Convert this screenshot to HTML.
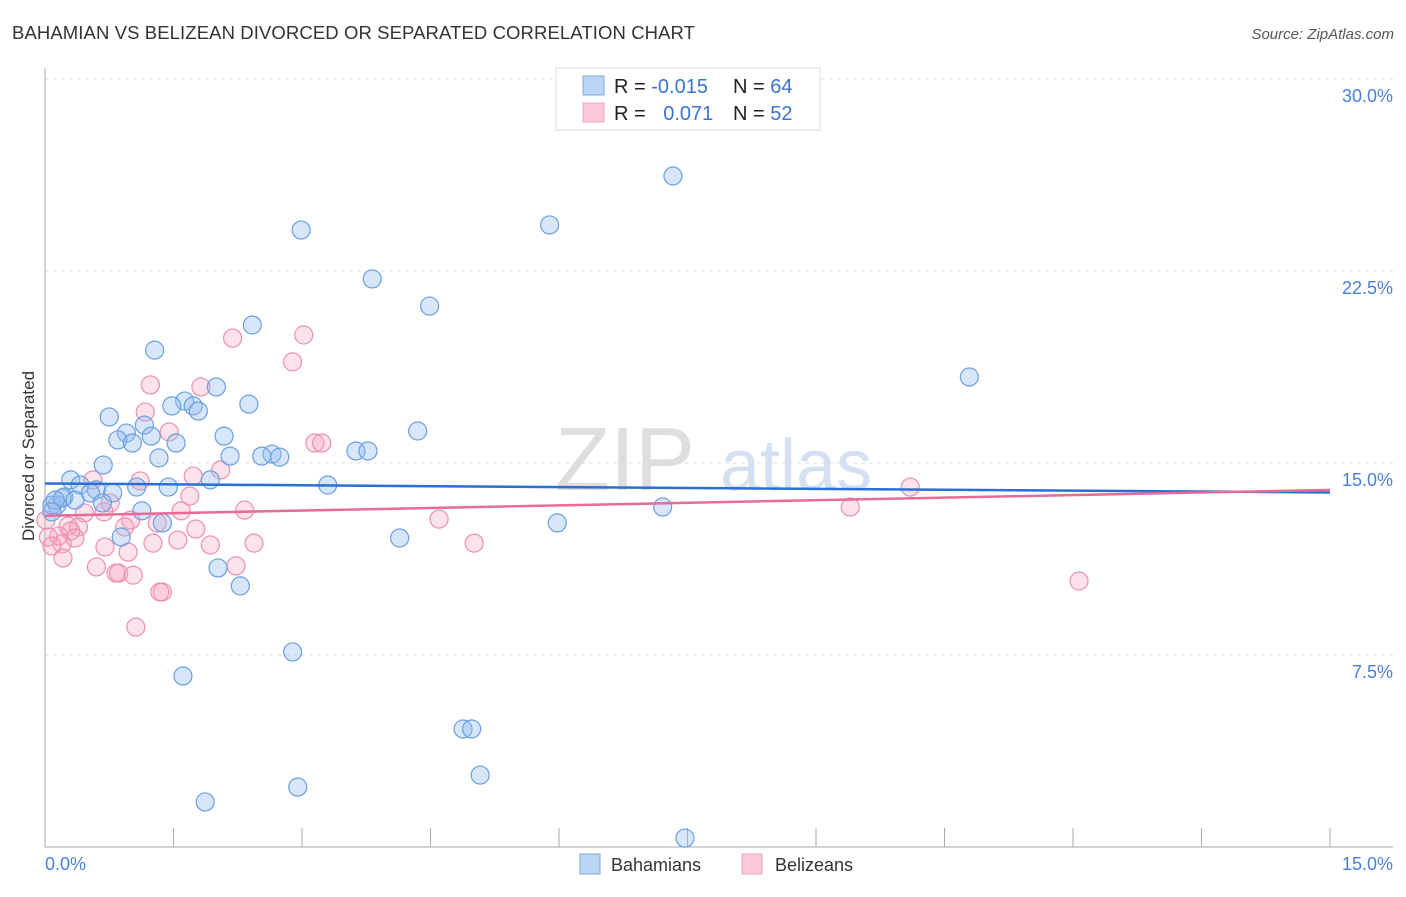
<!DOCTYPE html>
<html><head><meta charset="utf-8">
<style>
body{margin:0;background:#fff;font-family:"Liberation Sans",sans-serif;}
svg text{font-family:"Liberation Sans",sans-serif;}
</style></head>
<body>
<svg id="chart" width="1406" height="892">
<text x="12" y="39" font-size="18.5" fill="#333" letter-spacing="0.1">BAHAMIAN VS BELIZEAN DIVORCED OR SEPARATED CORRELATION CHART</text>
<text x="1394" y="39" font-size="15" fill="#555" font-style="italic" text-anchor="end">Source: ZipAtlas.com</text>
<text transform="translate(34,456) rotate(-90)" font-size="17" fill="#333" text-anchor="middle">Divorced or Separated</text>
<g>
<text x="555" y="490" font-size="90" fill="#dedede" font-family="Liberation Serif">ZIP</text>
<text x="720" y="490" font-size="72" fill="#d3e1f3">atlas</text>
</g>
<g id="grid"></g>
<g id="axes"></g>
<g id="points"></g>
<g id="trends"></g>
<g>
<rect x="556" y="68" width="264" height="62" fill="#fff" stroke="#ddd"/>
<rect x="583" y="76" width="21" height="19" fill="#bcd4f5" stroke="#7aa8e6"/>
<rect x="583" y="103" width="21" height="19" fill="#fbcad9" stroke="#f0a3be"/>
<text x="614" y="93" font-size="20" fill="#222">R = <tspan fill="#3b73d1">-0.015</tspan></text>
<text x="733" y="93" font-size="20" fill="#222">N = <tspan fill="#3b73d1">64</tspan></text>
<text x="614" y="120" font-size="20" fill="#222">R = <tspan fill="#3b73d1" dx="12">0.071</tspan></text>
<text x="733" y="120" font-size="20" fill="#222">N = <tspan fill="#3b73d1">52</tspan></text>
</g>
<g>
<rect x="580" y="854" width="20" height="20" fill="#bcd4f5" stroke="#7aa8e6"/>
<text x="611" y="871" font-size="18" fill="#333">Bahamians</text>
<rect x="742" y="854" width="20" height="20" fill="#fbcad9" stroke="#f0a3be"/>
<text x="775" y="871" font-size="18" fill="#333">Belizeans</text>
</g>
</svg>
<script>
const yTicks=[7.5,15,22.5,30];
const yTickLabels=["7.5%","15.0%","22.5%","30.0%"];
const xTickLabels=["0.0%","15.0%"];
const blueX=[7.33,5.89,2.99,3.82,4.49,2.42,1.28,10.79,2.00,2.38,1.63,1.48,1.73,1.79,0.75,1.16,0.95,1.24,0.85,1.02,1.53,4.35,2.09,3.63,3.77,1.33,2.16,2.65,2.53,2.74,0.68,0.30,1.93,0.41,1.44,3.30,1.07,0.60,0.22,0.53,0.79,0.14,0.08,0.20,0.35,0.67,1.13,7.21,5.98,1.37,0.89,4.14,2.02,2.28,2.89,1.61,4.88,4.98,5.08,2.95,1.87,7.47,0.12,0.08];
const blueY=[26.21,24.30,24.10,22.19,21.13,20.39,19.41,18.36,17.97,17.30,17.42,17.23,17.23,17.03,16.80,16.48,16.17,16.05,15.90,15.78,15.78,16.25,16.05,15.47,15.47,15.20,15.27,15.35,15.27,15.23,14.92,14.34,14.34,14.14,14.06,14.14,14.06,13.95,13.67,13.83,13.83,13.36,13.36,13.63,13.55,13.44,13.13,13.28,12.66,12.66,12.11,12.07,10.90,10.20,7.62,6.68,4.61,4.61,2.81,2.34,1.76,0.35,13.55,13.09];
const pinkX=[3.02,2.19,2.89,1.23,1.82,1.17,1.45,3.15,3.23,1.11,1.73,2.05,0.56,1.69,0.76,0.69,0.46,1.00,2.33,10.10,1.59,9.40,0.27,0.39,0.30,0.93,1.31,1.76,4.60,0.16,0.04,0.20,0.35,0.08,0.70,0.97,1.26,1.55,1.93,2.44,5.01,0.21,0.60,2.23,0.83,0.86,1.03,1.37,1.34,12.07,1.06,0.01];
const pinkY=[20.00,19.88,18.95,18.05,17.97,16.99,16.21,15.78,15.78,14.30,14.49,14.73,14.34,13.71,13.44,13.09,13.05,12.77,13.16,14.06,13.13,13.28,12.54,12.50,12.34,12.50,12.66,12.42,12.81,12.15,12.11,11.84,12.07,11.76,11.72,11.52,11.87,11.99,11.80,11.87,11.87,11.29,10.94,10.98,10.70,10.70,10.62,9.96,9.96,10.39,8.59,12.77];
const blueTrend=[14.2,13.85];
const pinkTrend=[12.94,13.95];
const NS="http://www.w3.org/2000/svg";
const X0=45,X1=1330,Y0=847;
function sx(v){return X0+(X1-X0)*v/15;}
function sy(v){return Y0-v*192/7.5;}
function mk(tag,attrs,parent){const e=document.createElementNS(NS,tag);for(const k in attrs)e.setAttribute(k,attrs[k]);parent.appendChild(e);return e;}
const grid=document.getElementById('grid'),axes=document.getElementById('axes'),pts=document.getElementById('points'),tr=document.getElementById('trends');
yTicks.forEach((t,i)=>{
 const l=mk('line',{x1:X0,x2:1393,y1:sy(t),y2:sy(t),stroke:'#ddd','stroke-dasharray':'4 4'},grid);
 
 
 const tx=mk('text',{x:1393,y:sy(t)+23,'font-size':18,fill:'#4a80d8','text-anchor':'end'},axes);
 tx.textContent=yTickLabels[i];
 
 
});
const ya=mk('line',{x1:X0,x2:X0,y1:68,y2:Y0,stroke:'#aaa'},axes);


const xa=mk('line',{x1:X0,x2:1393,y1:Y0,y2:Y0,stroke:'#aaa'},axes);


for(let i=1;i<=10;i++){
 const t=mk('line',{x1:sx(i*1.5),x2:sx(i*1.5),y1:828,y2:Y0,stroke:'#aaa'},axes);
 
 
}
const xl0=mk('text',{x:45,y:870,'font-size':18,fill:'#4a80d8'},axes);
xl0.textContent=xTickLabels[0];


const xl1=mk('text',{x:1393,y:870,'font-size':18,fill:'#4a80d8','text-anchor':'end'},axes);
xl1.textContent=xTickLabels[1];


function drawPts(xs,ys,fill,stroke,name){
 xs.forEach((x,i)=>{
  const c=mk('circle',{cx:sx(x),cy:sy(ys[i]),r:9,fill:fill,stroke:stroke,'stroke-width':1.2},pts);
  
  
 });
}
drawPts(pinkX,pinkY,'rgba(245,165,192,0.32)','#ec8fb0','belizean-point');
drawPts(blueX,blueY,'rgba(150,188,238,0.38)','#6a9fe0','bahamian-point');
const bl=mk('line',{x1:sx(0),x2:sx(15),y1:sy(blueTrend[0]),y2:sy(blueTrend[1]),stroke:'#2a6fd6','stroke-width':2.5},tr);


const pl=mk('line',{x1:sx(0),x2:sx(15),y1:sy(pinkTrend[0]),y2:sy(pinkTrend[1]),stroke:'#e76a98','stroke-width':2.5},tr);


</script>
</body></html>
